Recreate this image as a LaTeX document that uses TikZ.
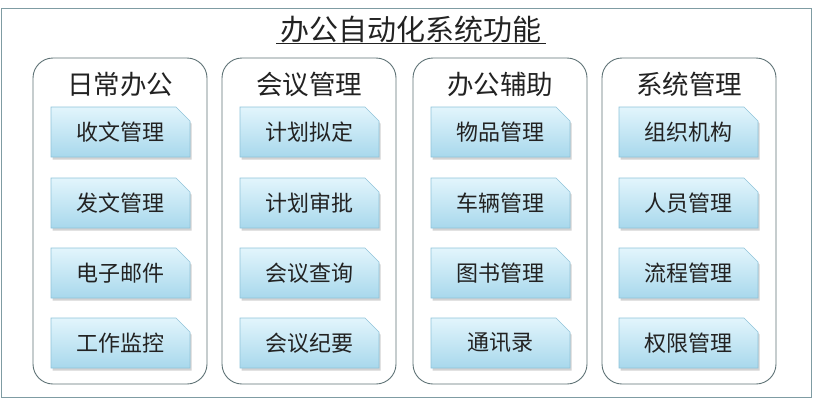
\documentclass[tikz,border=0pt]{standalone}
\usepackage{fontspec}
\setmainfont{Noto Sans CJK SC}
\usetikzlibrary{shapes.misc, shadows}

\definecolor{frameline}{HTML}{7F9CA3}
\definecolor{groupline}{HTML}{5E7275}
\definecolor{itemline}{HTML}{8FC3D9}
\definecolor{itemtop}{HTML}{E2F5FC}
\definecolor{itembottom}{HTML}{A8D8EC}
\definecolor{textdark}{HTML}{222222}

\tikzset{
    group/.style={draw=groupline, line width=0.9pt, rounded corners=20pt,
        minimum width=174pt, minimum height=326pt},
    head/.style={text=textdark, font=\fontsize{26.5pt}{28pt}\selectfont},
    item/.style={chamfered rectangle, chamfered rectangle corners=north east,
        chamfered rectangle xsep=7pt, chamfered rectangle ysep=7pt,
        draw=itemline, line width=0.6pt, top color=itemtop, bottom color=itembottom,
        minimum width=139pt, minimum height=50pt, inner sep=0pt,
        text=textdark, font=\fontsize{22pt}{24pt}\selectfont,
        drop shadow={shadow xshift=1.5pt, shadow yshift=-2.5pt, opacity=0.35}}
}

\begin{document}
\begin{tikzpicture}[x=1pt, y=-1pt]
        \useasboundingbox (0, 0) rectangle (814, 400);
        \draw[frameline, line width=0.8pt] (1, 8) rectangle (811, 397);

        \node[text=textdark, font=\fontsize{29pt}{31pt}\selectfont] (title) at (411, 29) {办公自动化系统功能};
        \draw[textdark, line width=1pt] (276, 43) -- (546, 43);

        % columns
        \node[group] (daily) at (120, 221) {};
        \node[group] (meeting) at (309, 221) {};
        \node[group] (assist) at (500, 221) {};
        \node[group] (system) at (689, 221) {};

        \node[head] (dailyhead) at (120, 84) {日常办公};
        \node[head] (meetinghead) at (309, 84) {会议管理};
        \node[head] (assisthead) at (500, 84) {办公辅助};
        \node[head] (systemhead) at (689, 84) {系统管理};

        % 日常办公
        \node[item] (receive) at (120.5, 132) {收文管理};
        \node[item] (send) at (120.5, 203) {发文管理};
        \node[item] (email) at (120.5, 273) {电子邮件};
        \node[item] (monitor) at (120.5, 343) {工作监控};

        % 会议管理
        \node[item] (plan) at (309.5, 132) {计划拟定};
        \node[item] (approve) at (309.5, 203) {计划审批};
        \node[item] (query) at (309.5, 273) {会议查询};
        \node[item] (minutes) at (309.5, 343) {会议纪要};

        % 办公辅助
        \node[item] (goods) at (500.5, 132) {物品管理};
        \node[item] (vehicle) at (500.5, 203) {车辆管理};
        \node[item] (books) at (500.5, 273) {图书管理};
        \node[item] (contacts) at (500.5, 343) {通讯录};

        % 系统管理
        \node[item] (org) at (688.5, 132) {组织机构};
        \node[item] (staff) at (688.5, 203) {人员管理};
        \node[item] (flow) at (688.5, 273) {流程管理};
        \node[item] (rights) at (688.5, 343) {权限管理};
\end{tikzpicture}
\end{document}
